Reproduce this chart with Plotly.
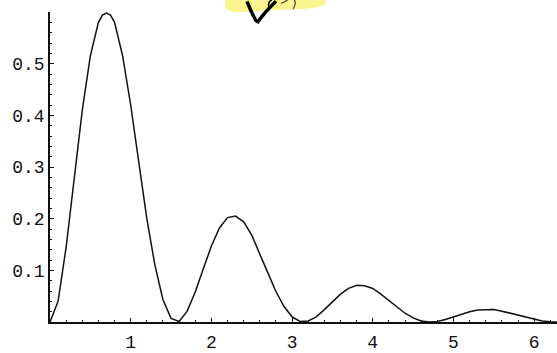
import plotly.graph_objects as go

# Data
x_vals = [0.0, 0.1, 0.2, 0.3, 0.4, 0.5, 0.6, 0.65, 0.7, 0.75, 0.8, 0.9,
          1.0, 1.1, 1.2, 1.3, 1.4, 1.5, 1.6, 1.7, 1.8, 1.9,
          2.0, 2.1, 2.2, 2.3, 2.4, 2.5, 2.6, 2.7, 2.8, 2.9,
          3.0, 3.1, 3.2, 3.3, 3.4, 3.5, 3.6, 3.7, 3.8, 3.9,
          4.0, 4.1, 4.2, 4.3, 4.4, 4.5, 4.6, 4.7, 4.8, 4.9,
          5.0, 5.1, 5.2, 5.3, 5.4, 5.5, 5.6, 5.7, 5.8, 5.9,
          6.0, 6.1, 6.2, 6.28]
y_vals = [0.0, 0.04, 0.145, 0.28, 0.41, 0.515, 0.58, 0.594, 0.598, 0.594, 0.58, 0.515,
          0.42, 0.31, 0.20, 0.11, 0.043, 0.007, 0.001, 0.021, 0.058, 0.103,
          0.147, 0.182, 0.202, 0.205, 0.194, 0.168, 0.133, 0.095, 0.059, 0.030,
          0.010, 0.001, 0.002, 0.010, 0.024, 0.040, 0.054, 0.065, 0.071, 0.070,
          0.065, 0.054, 0.042, 0.029, 0.017, 0.008, 0.002, 0.0, 0.001, 0.005,
          0.010, 0.015, 0.020, 0.023, 0.024, 0.024, 0.021, 0.017, 0.013, 0.009,
          0.005, 0.002, 0.0005, 0.0]
x_ticks = [1, 2, 3, 4, 5, 6]
x_tick_labels = ["1", "2", "3", "4", "5", "6"]
y_ticks = [0.1, 0.2, 0.3, 0.4, 0.5]
y_tick_labels = ["0.1", "0.2", "0.3", "0.4", "0.5"]

W, H = 557, 353
ML, MR, MT, MB = 50, 0, 12, 22
PW, PH = W - ML - MR, H - MT - MB


def pp(px, py):
    """page pixel -> paper coords"""
    return (px - ML) / PW, (H - MB - py) / PH


def path(cmds):
    out = []
    for c in cmds:
        if isinstance(c, str):
            out.append(c)
        else:
            a, b = pp(*c)
            out.append(f"{a:.5f},{b:.5f}")
    return " ".join(out)


fig = go.Figure()
fig.add_trace(go.Scatter(x=x_vals, y=y_vals, mode="lines",
                         line=dict(color="#111111", width=1.5),
                         hoverinfo="skip", showlegend=False))

tickfont = dict(family="Liberation Mono, Courier New, monospace", size=18,
                color="#111111")

fig.update_layout(
    width=W, height=H,
    margin=dict(l=ML, r=MR, t=MT, b=MB, pad=0),
    paper_bgcolor="white", plot_bgcolor="white",
    showlegend=False,
    xaxis=dict(range=[0, 6.283], showgrid=False, zeroline=False,
               showline=True, linecolor="#111111", linewidth=1.5,
               ticks="inside", ticklen=4, tickwidth=1.3, tickcolor="#111111",
               tickvals=x_ticks, ticktext=x_tick_labels, tickfont=tickfont,
               ticklabelstandoff=3,
               minor=dict(dtick=0.2, tick0=0, ticks="inside", ticklen=2,
                          tickwidth=1, tickcolor="#111111", showgrid=False)),
    yaxis=dict(range=[0, 0.6], showgrid=False, zeroline=False,
               showline=True, linecolor="#111111", linewidth=1.5,
               ticks="inside", ticklen=4, tickwidth=1.3, tickcolor="#111111",
               tickvals=y_ticks, ticktext=y_tick_labels, tickfont=tickfont,
               minor=dict(dtick=0.02, tick0=0, ticks="inside", ticklen=2,
                          tickwidth=1, tickcolor="#111111", showgrid=False)),
)

# yellow highlighter blob at the top (hand annotation)
fig.add_shape(type="path", xref="paper", yref="paper", layer="above",
              path=path(["M", (225, -2), "L", (326, -2), "L", (326, 3),
                         "Q", (322, 8), (300, 9), "L", (240, 12),
                         "Q", (226, 12), (225, 6), "Z"]),
              fillcolor="#fbf58f", line=dict(width=0))
# hand-drawn strokes
fig.add_shape(type="path", xref="paper", yref="paper", layer="above",
              path=path(["M", (247, 1), "Q", (251, 12), (256, 21),
                         "L", (258, 22), "Q", (265, 12), (276, 1)]),
              line=dict(color="#000000", width=3.5))
fig.add_shape(type="path", xref="paper", yref="paper", layer="above",
              path=path(["M", (272, -1), "Q", (267, 3), (269, 6)]),
              line=dict(color="#000000", width=1.5))
fig.add_shape(type="path", xref="paper", yref="paper", layer="above",
              path=path(["M", (281, 3), "Q", (285, 2), (288, -1)]),
              line=dict(color="#222222", width=1.2))
fig.add_shape(type="path", xref="paper", yref="paper", layer="above",
              path=path(["M", (294, -1), "Q", (297, 3), (293, 9)]),
              line=dict(color="#444444", width=1.2))

fig.write_html("out.html")
